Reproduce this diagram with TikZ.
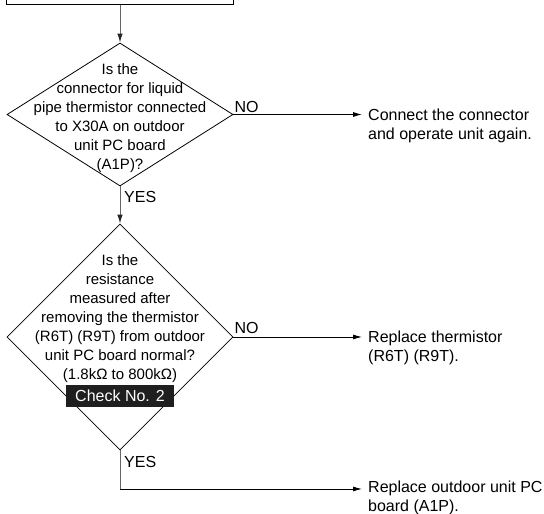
\documentclass[tikz,border=0pt]{standalone}
\usepackage{fontspec}
\setmainfont{Liberation Sans}
\usetikzlibrary{shapes.geometric,arrows.meta,calc}
\begin{document}
\begin{tikzpicture}[x=1pt,y=-1pt,
  font=\fontsize{16}{18.9}\selectfont,
  dia/.style={diamond,draw=black,line width=0.8pt,inner sep=0pt,minimum width=226pt},
  txt/.style={inner sep=0pt,align=center,font=\fontsize{15}{18.9}\selectfont},
  res/.style={inner xsep=6pt,inner ysep=0pt,align=left,anchor=west,font=\fontsize{16}{18.5}\selectfont},
  vline/.style={draw=black!60,line width=1pt},
  varrow/.style={vline,-{Latex[length=9pt,width=5.5pt,black!85]}},
  harrow/.style={draw=black,line width=0.8pt,-{Latex[length=9pt,width=5pt]}},
  lbl/.style={inner sep=0pt},
  chk/.style={fill=black!88,text=white,minimum width=108pt,minimum height=22pt,inner sep=0pt},
  topbox/.style={draw=black,line width=0.8pt,minimum width=227pt,minimum height=40pt,inner sep=0pt}
]
\useasboundingbox (0,0) rectangle (544,514);
\clip (0,0) rectangle (544,514);

% partially visible box at the top
\node[topbox,anchor=south] (top) at (120,5) {};

% decision 1
\node[dia,minimum height=143pt] (d1) at (120,114.5) {};
\node[txt] (t1) at (120,118) {Is the\\connector for liquid\\pipe thermistor connected\\to X30A on outdoor\\unit PC board\\(A1P)?};

% decision 2
\node[dia,minimum height=226pt] (d2) at (120,337) {};
\node[txt] (t2) at (120,318.5) {Is the\\resistance\\measured after\\removing the thermistor\\(R6T) (R9T) from outdoor\\unit PC board normal?\\(1.8kΩ to 800kΩ)};
\node[chk] (chk) at (120,396) {Check No. 2};

% results
\node[res] (r1) at (362,126) {Connect the connector\\and operate unit again.};
\node[res] (r2) at (362,348) {Replace thermistor\\(R6T) (R9T).};
\node[res] (r3) at (362,498) {Replace outdoor unit PC\\board (A1P).};

\coordinate (bend) at (120,489);

% connectors
\draw[varrow] (top.south) -- (d1.north);
\draw[varrow] (d1.south) -- (d2.north);
\draw[vline] (d2.south) -- (bend);
\draw[harrow] (bend) -- (bend -| r3.west);
\draw[harrow] (d1.east) -- (d1.east -| r1.west);
\draw[harrow] (d2.east) -- (d2.east -| r2.west);

% labels
\node[lbl,anchor=south west] (no1) at ([xshift=1pt,yshift=2pt]d1.east) {NO};
\node[lbl,anchor=south west] (no2) at ([xshift=1pt,yshift=3pt]d2.east) {NO};
\node[lbl,anchor=north west] (yes1) at ([xshift=4pt,yshift=-5pt]d1.south) {YES};
\node[lbl,anchor=north west] (yes2) at ([xshift=4pt,yshift=-6pt]d2.south) {YES};
\end{tikzpicture}
\end{document}
